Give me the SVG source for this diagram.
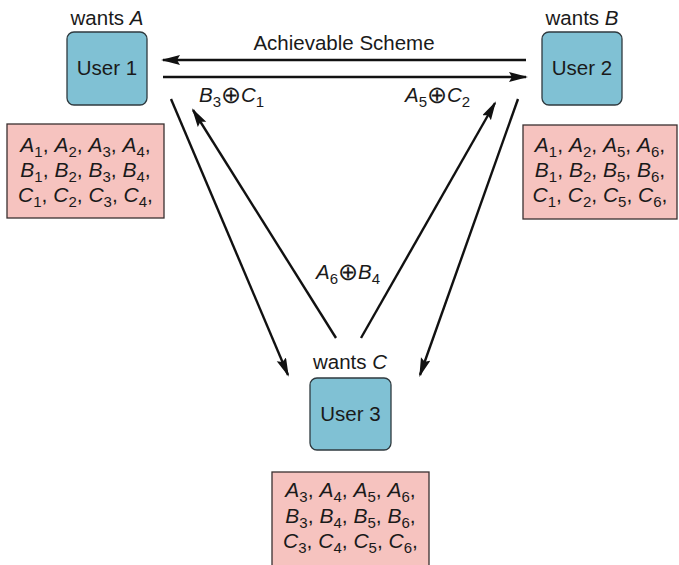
<svg xmlns="http://www.w3.org/2000/svg" width="679" height="565" viewBox="0 0 679 565">
  <style>
    .user { fill: #80c1d4; stroke: #2f3a3f; stroke-width: 1.3; }
    .store { fill: #f6c3bf; stroke: #3a3030; stroke-width: 1.3; }
    .lbl { font-family: "Liberation Sans", Arial, sans-serif; font-size: 20.5px; fill: #1a1a1a; }
    .set { font-size: 21px; }
    .it { font-style: italic; }
    .sub { font-size: 15px; }
    .xor { font-family: "DejaVu Sans", sans-serif; font-size: 24px; font-weight: 200; }
    .edge { stroke: #111; stroke-width: 2.4; fill: none; marker-end: url(#head); }
  </style>
  <defs>
    <marker id="head" markerUnits="userSpaceOnUse" markerWidth="20" markerHeight="12" refX="17" refY="5" orient="auto">
      <path d="M0,0 L19,5 L0,10 L3,5 z" fill="#111"/>
    </marker>
  </defs>

  <rect width="679" height="565" fill="#ffffff"/>

  <!-- connectors -->
  <g id="connectors">
    <line class="edge" x1="526" y1="60" x2="163" y2="60"/>
    <line class="edge" x1="163" y1="77" x2="526" y2="77"/>
    <line class="edge" x1="171" y1="99" x2="288" y2="375"/>
    <line class="edge" x1="336" y1="338" x2="193" y2="110"/>
    <line class="edge" x1="361" y1="338" x2="495" y2="103"/>
    <line class="edge" x1="518" y1="99" x2="420" y2="375"/>
    <text class="lbl" x="344" y="50" text-anchor="middle">Achievable Scheme</text>
    <text class="lbl" x="199" y="102"><tspan class="it">B</tspan><tspan class="sub" dy="5">3</tspan><tspan class="xor" dy="-4">⊕</tspan><tspan class="it" dy="-1">C</tspan><tspan class="sub" dy="5">1</tspan></text>
    <text class="lbl" x="405" y="102"><tspan class="it">A</tspan><tspan class="sub" dy="5">5</tspan><tspan class="xor" dy="-4">⊕</tspan><tspan class="it" dy="-1">C</tspan><tspan class="sub" dy="5">2</tspan></text>
    <text class="lbl" x="316" y="279"><tspan class="it">A</tspan><tspan class="sub" dy="5">6</tspan><tspan class="xor" dy="-4">⊕</tspan><tspan class="it" dy="-1">B</tspan><tspan class="sub" dy="5">4</tspan></text>
  </g>

  <!-- User 1 -->
  <g id="user1">
    <text class="lbl" x="107" y="25" text-anchor="middle">wants <tspan class="it">A</tspan></text>
    <rect class="user" x="67" y="32" width="80" height="73" rx="7"/>
    <text class="lbl" x="107" y="75" text-anchor="middle">User 1</text>
  </g>
  <g id="store1">
    <rect class="store" x="7" y="124" width="157" height="94"/>
    <text class="lbl set" x="85.5" y="152" text-anchor="middle"><tspan class="it">A</tspan><tspan class="sub" dy="5">1</tspan><tspan dy="-5">, </tspan><tspan class="it">A</tspan><tspan class="sub" dy="5">2</tspan><tspan dy="-5">, </tspan><tspan class="it">A</tspan><tspan class="sub" dy="5">3</tspan><tspan dy="-5">, </tspan><tspan class="it">A</tspan><tspan class="sub" dy="5">4</tspan><tspan dy="-5">,</tspan></text>
    <text class="lbl set" x="85.5" y="177" text-anchor="middle"><tspan class="it">B</tspan><tspan class="sub" dy="5">1</tspan><tspan dy="-5">, </tspan><tspan class="it">B</tspan><tspan class="sub" dy="5">2</tspan><tspan dy="-5">, </tspan><tspan class="it">B</tspan><tspan class="sub" dy="5">3</tspan><tspan dy="-5">, </tspan><tspan class="it">B</tspan><tspan class="sub" dy="5">4</tspan><tspan dy="-5">,</tspan></text>
    <text class="lbl set" x="85.5" y="202" text-anchor="middle"><tspan class="it">C</tspan><tspan class="sub" dy="5">1</tspan><tspan dy="-5">, </tspan><tspan class="it">C</tspan><tspan class="sub" dy="5">2</tspan><tspan dy="-5">, </tspan><tspan class="it">C</tspan><tspan class="sub" dy="5">3</tspan><tspan dy="-5">, </tspan><tspan class="it">C</tspan><tspan class="sub" dy="5">4</tspan><tspan dy="-5">,</tspan></text>
  </g>

  <!-- User 2 -->
  <g id="user2">
    <text class="lbl" x="582" y="25" text-anchor="middle">wants <tspan class="it">B</tspan></text>
    <rect class="user" x="542" y="32" width="80" height="73" rx="7"/>
    <text class="lbl" x="582" y="75" text-anchor="middle">User 2</text>
  </g>
  <g id="store2">
    <rect class="store" x="523" y="125" width="154" height="94"/>
    <text class="lbl set" x="600" y="152" text-anchor="middle"><tspan class="it">A</tspan><tspan class="sub" dy="5">1</tspan><tspan dy="-5">, </tspan><tspan class="it">A</tspan><tspan class="sub" dy="5">2</tspan><tspan dy="-5">, </tspan><tspan class="it">A</tspan><tspan class="sub" dy="5">5</tspan><tspan dy="-5">, </tspan><tspan class="it">A</tspan><tspan class="sub" dy="5">6</tspan><tspan dy="-5">,</tspan></text>
    <text class="lbl set" x="600" y="177" text-anchor="middle"><tspan class="it">B</tspan><tspan class="sub" dy="5">1</tspan><tspan dy="-5">, </tspan><tspan class="it">B</tspan><tspan class="sub" dy="5">2</tspan><tspan dy="-5">, </tspan><tspan class="it">B</tspan><tspan class="sub" dy="5">5</tspan><tspan dy="-5">, </tspan><tspan class="it">B</tspan><tspan class="sub" dy="5">6</tspan><tspan dy="-5">,</tspan></text>
    <text class="lbl set" x="600" y="202" text-anchor="middle"><tspan class="it">C</tspan><tspan class="sub" dy="5">1</tspan><tspan dy="-5">, </tspan><tspan class="it">C</tspan><tspan class="sub" dy="5">2</tspan><tspan dy="-5">, </tspan><tspan class="it">C</tspan><tspan class="sub" dy="5">5</tspan><tspan dy="-5">, </tspan><tspan class="it">C</tspan><tspan class="sub" dy="5">6</tspan><tspan dy="-5">,</tspan></text>
  </g>

  <!-- User 3 -->
  <g id="user3">
    <text class="lbl" x="350" y="369" text-anchor="middle">wants <tspan class="it">C</tspan></text>
    <rect class="user" x="310" y="378" width="81" height="72" rx="7"/>
    <text class="lbl" x="350.5" y="421" text-anchor="middle">User 3</text>
  </g>
  <g id="store3">
    <rect class="store" x="272" y="472" width="157" height="100"/>
    <text class="lbl set" x="350.5" y="497" text-anchor="middle"><tspan class="it">A</tspan><tspan class="sub" dy="5">3</tspan><tspan dy="-5">, </tspan><tspan class="it">A</tspan><tspan class="sub" dy="5">4</tspan><tspan dy="-5">, </tspan><tspan class="it">A</tspan><tspan class="sub" dy="5">5</tspan><tspan dy="-5">, </tspan><tspan class="it">A</tspan><tspan class="sub" dy="5">6</tspan><tspan dy="-5">,</tspan></text>
    <text class="lbl set" x="350.5" y="523" text-anchor="middle"><tspan class="it">B</tspan><tspan class="sub" dy="5">3</tspan><tspan dy="-5">, </tspan><tspan class="it">B</tspan><tspan class="sub" dy="5">4</tspan><tspan dy="-5">, </tspan><tspan class="it">B</tspan><tspan class="sub" dy="5">5</tspan><tspan dy="-5">, </tspan><tspan class="it">B</tspan><tspan class="sub" dy="5">6</tspan><tspan dy="-5">,</tspan></text>
    <text class="lbl set" x="350.5" y="548" text-anchor="middle"><tspan class="it">C</tspan><tspan class="sub" dy="5">3</tspan><tspan dy="-5">, </tspan><tspan class="it">C</tspan><tspan class="sub" dy="5">4</tspan><tspan dy="-5">, </tspan><tspan class="it">C</tspan><tspan class="sub" dy="5">5</tspan><tspan dy="-5">, </tspan><tspan class="it">C</tspan><tspan class="sub" dy="5">6</tspan><tspan dy="-5">,</tspan></text>
  </g>
</svg>
